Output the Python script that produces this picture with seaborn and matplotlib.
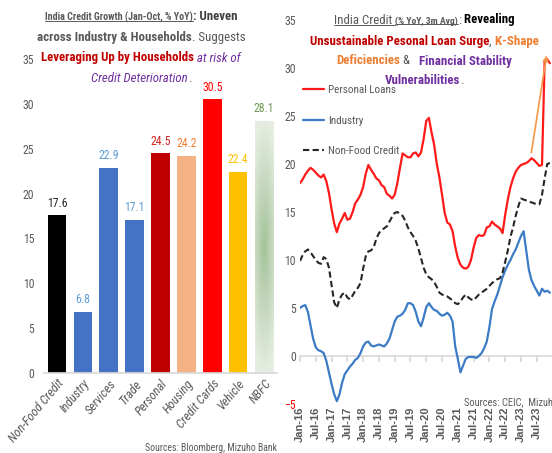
import numpy as np
import pandas as pd
import matplotlib
matplotlib.use("Agg")
import matplotlib.pyplot as plt
import seaborn as sns
from matplotlib import font_manager
from matplotlib.font_manager import FontProperties
from matplotlib.offsetbox import TextArea, HPacker, AnchoredOffsetbox
from matplotlib.lines import Line2D

# ---------------- data: left panel ----------------
categories = ["Non-Food Credit", "Industry", "Services", "Trade", "Personal",
              "Housing", "Credit Cards", "Vehicle", "NBFC"]
growth = [17.6, 6.8, 22.9, 17.1, 24.5, 24.2, 30.5, 22.4, 28.1]
bar_colors = ["#000000", "#4472C4", "#4472C4", "#4472C4", "#C00000",
              "#F4B183", "#FF0000", "#FFC000", "#C9DAC1"]
value_label_colors = ["#262626", "#5B9BD5", "#5B9BD5", "#5B9BD5", "#D42020",
                      "#ED7D31", "#FF0000", "#FFC000", "#6F9A55"]
left_yticks = [0, 5, 10, 15, 20, 25, 30, 35]

# ---------------- data: right panel (monthly, Jan-16 onward) ----------------
personal_loans = [
    18.0, 18.4, 18.9, 19.3, 19.6, 19.4, 19.1, 18.8, 18.6, 18.9, 18.2, 17.0,
    15.3, 13.8, 12.9, 13.8, 14.3, 14.9, 14.2, 14.3, 15.0, 15.9, 16.3, 16.8,
    17.6, 19.0, 19.9, 19.4, 19.0, 18.5, 18.3, 17.8, 17.6, 16.9, 16.7, 16.4,
    16.8, 18.0, 19.6, 21.1, 20.9, 20.7, 20.7, 21.1, 21.2, 20.8, 21.2, 22.6,
    24.5, 24.8, 23.3, 22.0, 20.0, 18.6, 16.8, 14.9, 13.9, 13.7, 13.0, 11.4,
    10.2, 9.5, 9.2, 9.1, 9.3, 10.0, 11.3, 12.3, 12.6, 12.5, 12.6, 13.4,
    13.5, 14.0, 13.7, 13.5, 13.3, 12.8, 14.7, 16.3, 17.6, 18.5, 19.2, 19.6,
    19.9, 20.0, 20.1, 20.3, 20.6, 20.4, 20.1, 19.8, 19.9, 30.8, 30.9, 30.5]
industry = [
    5.0, 5.2, 5.3, 4.6, 3.2, 1.8, 0.9, 0.6, 0.5, 0.3, -0.5, -1.7,
    -2.9, -4.0, -4.7, -4.0, -2.8, -1.9, -1.5, -1.1, -0.8, -0.4, -0.2, 0.3,
    1.0, 1.4, 1.5, 1.1, 1.0, 1.1, 1.2, 1.1, 1.0, 1.3, 1.8, 2.7,
    3.6, 4.1, 4.2, 4.4, 4.8, 5.5, 5.5, 5.3, 4.6, 3.6, 3.1, 4.0,
    5.1, 5.5, 5.1, 4.8, 4.7, 4.4, 4.2, 4.3, 4.5, 4.2, 3.6, 1.0,
    -0.3, -1.7, -1.0, -0.3, -0.1, -0.1, -0.1, -0.2, 0.0, 0.3, 0.8, 1.5,
    3.0, 4.9, 5.7, 6.4, 7.3, 8.2, 8.9, 9.5, 10.0, 10.6, 11.1, 11.8,
    12.5, 13.0, 11.0, 9.0, 7.9, 7.3, 6.8, 6.3, 7.0, 6.7, 6.8, 6.6]
non_food_credit = [
    9.9, 10.5, 10.9, 11.1, 10.8, 10.4, 10.0, 9.7, 9.6, 10.3, 10.1, 9.2,
    7.4, 5.6, 5.0, 5.9, 6.4, 6.6, 6.1, 5.9, 6.3, 6.8, 7.1, 7.6,
    9.1, 10.4, 10.9, 11.0, 11.3, 12.2, 12.8, 13.1, 13.3, 13.5, 14.0, 14.5,
    14.9, 15.0, 14.8, 14.6, 14.1, 13.4, 12.9, 12.5, 12.0, 11.2, 10.2, 9.2,
    8.5, 8.2, 8.0, 7.7, 7.2, 6.6, 6.4, 6.3, 6.2, 6.0, 5.8, 5.5,
    5.4, 5.7, 6.1, 6.4, 6.1, 5.9, 5.8, 6.1, 6.4, 6.6, 6.8, 7.0,
    7.3, 7.6, 7.8, 8.0, 8.1, 8.7, 9.8, 11.0, 12.4, 13.4, 14.6, 15.6,
    16.4, 16.3, 16.2, 16.1, 16.0, 15.9, 15.8, 15.8, 16.8, 18.5, 20.0, 20.1]
date_tick_labels = ["Jan-16", "Jul-16", "Jan-17", "Jul-17", "Jan-18", "Jul-18",
                    "Jan-19", "Jul-19", "Jan-20", "Jul-20", "Jan-21", "Jul-21",
                    "Jan-22", "Jul-22", "Jan-23", "Jul-23"]
right_yticks = [-5, 0, 5, 10, 15, 20, 25, 30, 35]
# annotation arrows (month index, value)
arrow_up = ((87.8, 20.9), (93.9, 31.6))
arrow_down = ((86.8, 13.0), (96.5, 7.8))

# ---------------- fonts ----------------
def pick(names):
    for n in names:
        try:
            font_manager.findfont(FontProperties(family=n), fallback_to_default=False)
            return n
        except Exception:
            pass
    return "DejaVu Sans"

sns.set_theme(style="white")
NARROW = pick(["Liberation Sans Narrow", "Roboto Condensed", "Liberation Sans"])
ARIAL = pick(["Liberation Sans", "Arial"])
plt.rcParams["font.family"] = [NARROW, "DejaVu Sans"]

GREY = "#595959"
DRED = "#C00000"
PURP = "#7030A0"
ORNG = "#ED7D31"

W, H = 552, 453
fig = plt.figure(figsize=(W / 100, H / 100), dpi=100)
fig.patch.set_facecolor("white")

# ================= LEFT PANEL =================
axL = fig.add_axes([44 / W, 1 - 373 / H, 233 / W, 314 / H])
dfL = pd.DataFrame({"cat": categories, "val": growth})
sns.barplot(data=dfL, x="cat", y="val", hue="cat", palette=dict(zip(categories, bar_colors)),
            legend=False, width=0.72, saturation=1, ax=axL, linewidth=0)
axL.set_ylim(0, 35)
axL.set_xlim(-0.5, len(categories) - 0.5)
axL.set_yticks(left_yticks)
axL.set_xlabel("")
axL.set_ylabel("")
for s in ["top", "right", "left"]:
    axL.spines[s].set_visible(False)
axL.spines["bottom"].set_color("#D9D9D9")
axL.tick_params(axis="y", length=0, pad=7, labelsize=8.5, labelcolor=GREY)
axL.tick_params(axis="x", length=0, pad=3)
axL.set_xticks(range(len(categories)))
axL.set_xticklabels(categories, rotation=50, ha="right", rotation_mode="anchor",
                    fontstyle="italic", fontsize=9, color=GREY)

patches = sorted([p for p in axL.patches if p.get_height() > 0], key=lambda p: p.get_x())
for p, v, c in zip(patches, growth, value_label_colors):
    cx = p.get_x() + p.get_width() / 2
    axL.annotate(f"{v:.1f}", (cx, p.get_height()), xytext=(0, 4), textcoords="offset points",
                 ha="center", va="bottom", fontsize=8.5, color=c)

# NBFC gradient fill
nb = patches[-1]
nb.set_facecolor("none")
gy, gx = np.mgrid[0:1:200j, 0:1:60j]
d = np.clip(np.sqrt(((gy - 0.5) * 2) ** 2 + (0.6 * (gx - 0.5) * 2) ** 2), 0, 1)
dark = np.array([0.64, 0.76, 0.60])
light = np.array([0.90, 0.93, 0.88])
img = dark[None, None, :] * (1 - d[..., None]) + light[None, None, :] * d[..., None]
im = axL.imshow(img, extent=[nb.get_x(), nb.get_x() + nb.get_width(), 0, nb.get_height()],
                aspect="auto", zorder=nb.get_zorder(), origin="lower")
im.set_clip_path(nb)
axL.set_xlim(-0.5, len(categories) - 0.5)
axL.set_ylim(0, 35)

fig.text(277 / W, 1 - 448 / H, "Sources: Bloomberg, Mizuho Bank", ha="right", va="center",
         fontsize=7, color=GREY)

# ================= RIGHT PANEL =================
axR = fig.add_axes([300 / W, 1 - 404 / H, 252 / W, 384 / H])
months = np.arange(len(personal_loans))
sns.lineplot(x=months, y=personal_loans, color="#FF1A1A", lw=1.6, label="Personal Loans", ax=axR)
sns.lineplot(x=months, y=industry, color="#3C7BC6", lw=1.6, label="Industry", ax=axR)
sns.lineplot(x=months, y=non_food_credit, color="#262626", lw=1.5, label="Non-Food Credit",
             ax=axR, linestyle=(0, (3, 1.6)))
axR.set_xlim(0, 95.8)
axR.set_ylim(-5, 35)
axR.set_yticks(right_yticks)
axR.set_xticks(np.arange(len(date_tick_labels)) * 6)
xfp = FontProperties(family=ARIAL, weight="bold", size=8)
axR.set_xticklabels(date_tick_labels, rotation=90, color=GREY, fontproperties=xfp)
axR.tick_params(axis="x", length=0, pad=2)
axR.tick_params(axis="y", length=0, pad=3, labelsize=8.5, labelcolor=GREY)
for lab in axR.get_yticklabels():
    if lab.get_text().startswith(("-", "\u2212")):
        lab.set_color("#FF0000")
for s in ["top", "right", "left", "bottom"]:
    axR.spines[s].set_visible(False)
axR.set_xlabel("")
axR.set_ylabel("")

sec = axR.secondary_xaxis(5 / 40)
sec.set_xticks(np.arange(len(date_tick_labels)) * 6)
sec.set_xticklabels([])
sec.tick_params(axis="x", length=4, color="#D9D9D9", direction="out")
sec.spines["bottom"].set_color("#D9D9D9")

axR.annotate("", xy=arrow_up[1], xytext=arrow_up[0],
             arrowprops=dict(arrowstyle="-|>", color="#F79646", lw=1.2, mutation_scale=8))
axR.annotate("", xy=arrow_down[1], xytext=arrow_down[0],
             arrowprops=dict(arrowstyle="-", color="#F79646", lw=1.2, clip_on=True))

leg = axR.legend(loc="upper left", bbox_to_anchor=(303 / W, 1 - 85 / H),
                 bbox_transform=fig.transFigure, frameon=False, fontsize=8,
                 labelcolor=GREY, handlelength=1.9, handletextpad=0.35,
                 labelspacing=1.85, borderpad=0, borderaxespad=0)

fig.text(464 / W, 1 - 402 / H, "Sources: CEIC,  Mizuho Bank", ha="left", va="center",
         fontsize=7.5, color=GREY)

# ================= rich titles =================
underlined = []

def rich_line(segs, x, y):
    boxes = []
    for seg in segs:
        t, props = seg[0], seg[1]
        ta = TextArea(t, textprops=props)
        boxes.append(ta)
        if len(seg) > 2 and seg[2]:
            underlined.append(ta)
    hb = HPacker(children=boxes, align="baseline", pad=0, sep=0)
    ab = AnchoredOffsetbox(loc="center", child=hb, bbox_to_anchor=(x / W, 1 - y / H),
                           bbox_transform=fig.transFigure, frameon=False, pad=0, borderpad=0)
    fig.add_artist(ab)

TS = 9.3
TF = NARROW
def P(color, weight="normal", style="normal", size=TS):
    return dict(color=color, fontweight=weight, fontstyle=style, fontsize=size, family=TF)

rich_line([("India Credit Growth (Jan-Oct, % YoY)", P(GREY, "bold", size=7.2), True),
           (": Uneven", P("#404040", "bold"))], 141, 17)
rich_line([("across Industry & Households", P(GREY, "bold")),
           (". Suggests", P(GREY))], 141, 38)
rich_line([("Leveraging Up by Households", P(DRED, "bold")),
           (" at risk of", P(PURP, style="italic"))], 141, 58)
rich_line([("Credit Deterioration", P(PURP, style="italic")),
           (".", P(GREY))], 141, 79)

rich_line([("India Credit ", P(GREY), True),
           ("(% YoY, 3m Avg)", P(GREY, "bold", size=6.8), True),
           (":", P(GREY)), (" Revealing", P("#000000", "bold"))], 424, 20)
rich_line([("Unsustainable Pesonal Loan Surge", P(DRED, "bold")),
           (",", P(GREY)), (" K-Shape", P(ORNG, "bold"))], 424, 41)
rich_line([("Deficiencies", P(ORNG, "bold")), (" &   ", P(GREY)),
           ("Financial Stability", P(PURP, "bold"))], 424, 61)
rich_line([("Vulnerabilities", P(PURP, "bold")), (".", P(GREY))], 424, 81)

fig.canvas.draw()
r = fig.canvas.get_renderer()
inv = fig.transFigure.inverted()
for ta in underlined:
    bb = ta._text.get_window_extent(r)
    (x0, y0), (x1, _) = inv.transform([(bb.x0, bb.y0 + 1.5), (bb.x1, bb.y0 + 1.5)])
    fig.add_artist(Line2D([x0, x1], [y0, y0], color=GREY, lw=0.7, transform=fig.transFigure))

fig.savefig("out.png", dpi=100, facecolor="white")
